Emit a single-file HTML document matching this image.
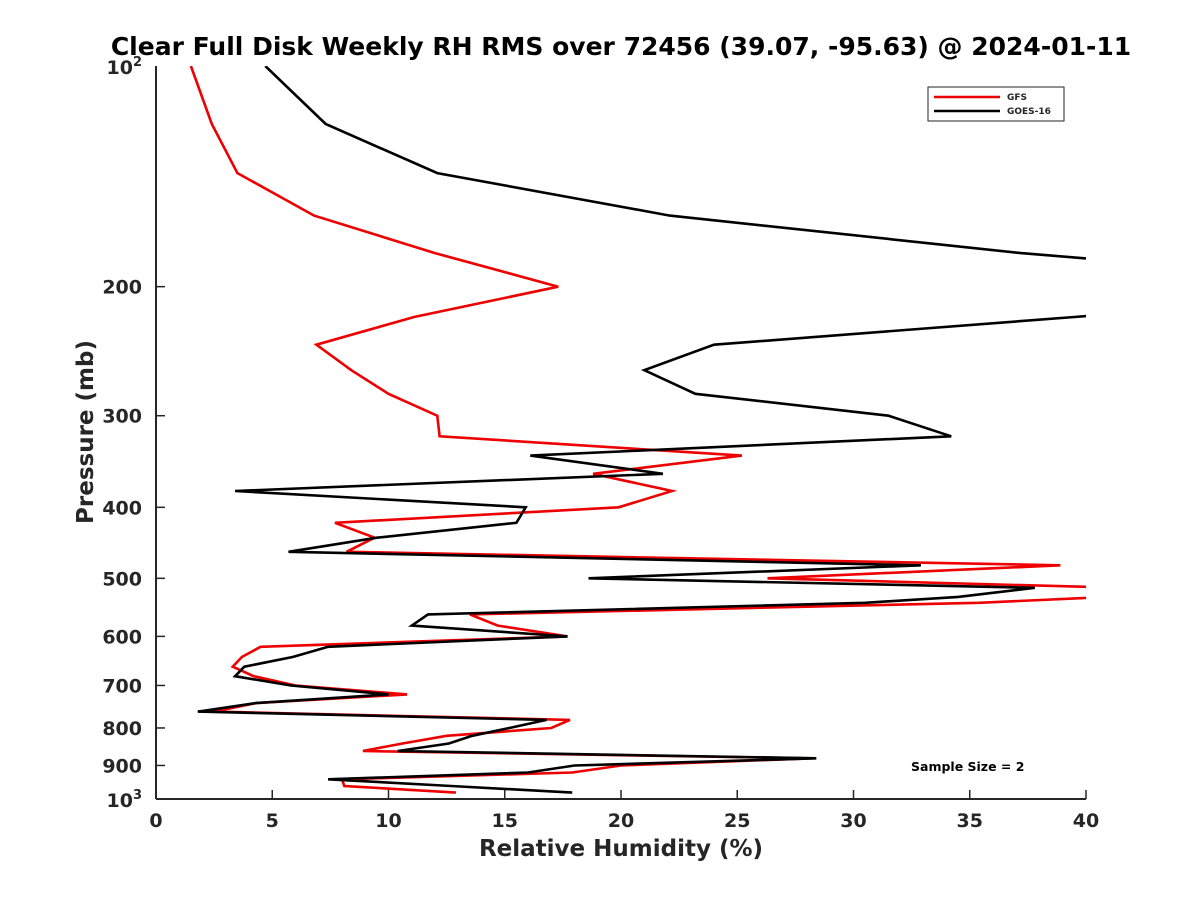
<!DOCTYPE html>
<html><head><meta charset="utf-8"><style>
body{margin:0;background:#fff;}
svg text{font-family:"DejaVu Sans","Liberation Sans",sans-serif;font-weight:bold;fill:#262626;}
</style></head><body>
<svg id="chart" width="1200" height="900" viewBox="0 0 1200 900" xmlns="http://www.w3.org/2000/svg">
<rect width="1200" height="900" fill="#fff"/>
<defs><clipPath id="plotclip"><rect x="156" y="66" width="930" height="733"/></clipPath></defs>
<text x="621" y="55" font-size="25" text-anchor="middle" style="fill:#000">Clear Full Disk Weekly RH RMS over 72456 (39.07, -95.63) @ 2024-01-11</text>
<g id="axes"></g>
<g id="series" clip-path="url(#plotclip)"></g>
<text x="621" y="856" font-size="23" text-anchor="middle">Relative Humidity (%)</text>
<text transform="translate(93,432) rotate(-90)" font-size="23" text-anchor="middle">Pressure (mb)</text>
<g>
<rect x="928" y="87" width="136" height="34" fill="#fff" stroke="#262626" stroke-width="1"/>
<line x1="934" y1="97" x2="1000" y2="97" stroke="#e00" stroke-width="2.5"/>
<text x="1007" y="100" font-size="9">GFS</text>
<line x1="934" y1="111" x2="1000" y2="111" stroke="#000" stroke-width="2.5"/>
<text x="1007" y="114" font-size="9">GOES-16</text>
</g>
<text x="911" y="771" font-size="12.5" style="fill:#000">Sample Size = 2</text>
</svg>
<script>
const pressures=[100,120,140,160,180,200,220,240,260,280,300,320,340,360,380,400,420,440,460,480,500,515,530,540,560,580,600,620,640,660,680,700,720,740,760,780,800,820,840,860,880,900,920,940,960,980];
const gfsValues=[1.5,2.4,3.5,6.8,12.0,17.3,11.1,6.9,8.4,10.0,12.1,12.2,25.2,18.8,22.2,19.9,7.7,9.4,8.2,38.9,26.3,41.5,41,35.4,13.5,14.7,17.7,4.5,3.7,3.3,4.2,6.0,10.8,4.3,2.5,17.8,17.0,12.5,10.6,8.9,28.2,20.0,17.9,8.0,8.1,12.9];
const goesValues=[4.7,7.3,12.1,22.1,37.2,55,39.5,24.0,21.0,23.2,31.5,34.2,16.1,21.8,3.4,15.9,15.5,9.5,5.7,32.9,18.6,37.8,34.5,30.5,11.7,11.0,17.7,7.4,5.9,3.8,3.4,5.8,10.0,4.3,1.8,16.8,15.2,13.6,12.6,10.4,28.4,18.0,16.0,7.4,12.7,17.9];
const xTicks=[0,5,10,15,20,25,30,35,40];
const yTicks=[200,300,400,500,600,700,800,900];
const NS="http://www.w3.org/2000/svg";
const X0=156,X1=1086,Y0=66,Y1=799;
function xs(v){return X0+(v-0)/40*(X1-X0);}
function ys(p){return Y0+(Math.log10(p)-2)*(Y1-Y0);}
function mk(tag,attrs,parent){const e=document.createElementNS(NS,tag);for(const k in attrs)e.setAttribute(k,attrs[k]);parent.appendChild(e);return e;}
const axes=document.getElementById('axes');
let l=mk('line',{x1:X0,y1:Y0,x2:X0,y2:Y1,stroke:'#262626','stroke-width':2},axes);


l=mk('line',{x1:X0,y1:Y1,x2:X1,y2:Y1,stroke:'#262626','stroke-width':2},axes);


xTicks.forEach(v=>{const x=xs(v);
 mk('line',{x1:x,y1:Y1,x2:x,y2:Y1-9,stroke:'#262626','stroke-width':1.5},axes);
 const t=mk('text',{x:x,y:Y1+28,'font-size':19,'text-anchor':'middle'},axes);t.textContent=v;
 
 
});
yTicks.forEach(p=>{const y=ys(p);
 mk('line',{x1:X0,y1:y,x2:X0+9,y2:y,stroke:'#262626','stroke-width':1.5},axes);
 const t=mk('text',{x:X0-14,y:y+7,'font-size':19,'text-anchor':'end'},axes);t.textContent=p;
 
 
});
[[100,'2'],[1000,'3']].forEach(([p,e])=>{const y=ys(p);
 const t=mk('text',{x:X0-14,y:y+8,'font-size':19,'text-anchor':'end'},axes);
 t.innerHTML='10<tspan dy="-8" font-size="13">'+e+'</tspan>';
 
 
});
const series=document.getElementById('series');
function drawLine(vals,color,name){
 const pts=pressures.map((p,i)=>xs(vals[i]).toFixed(1)+','+ys(p).toFixed(1)).join(' ');
 const pl=mk('polyline',{points:pts,fill:'none',stroke:color,'stroke-width':2.6,'stroke-linejoin':'miter'},series);
 
 
}
drawLine(gfsValues,'#e00','gfs-line');
drawLine(goesValues,'#000','goes16-line');
</script>
</body></html>
